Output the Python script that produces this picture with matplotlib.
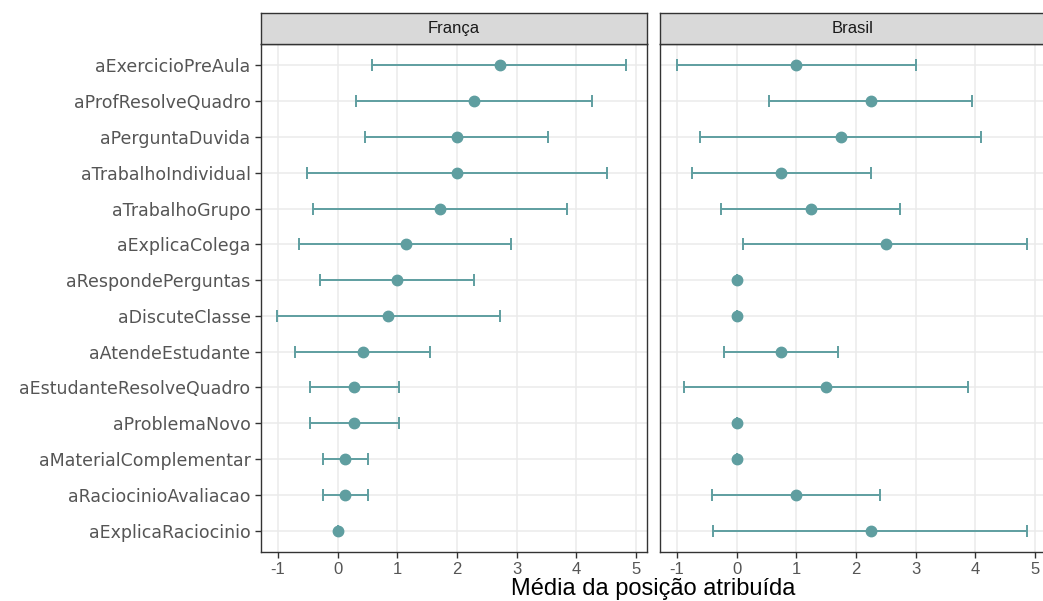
import matplotlib.pyplot as plt
import numpy as np

plt.rcParams['font.family'] = ['Liberation Sans', 'DejaVu Sans']
plt.rcParams['axes.unicode_minus'] = False

atividades = ['aExercicioPreAula', 'aProfResolveQuadro', 'aPerguntaDuvida',
              'aTrabalhoIndividual', 'aTrabalhoGrupo', 'aExplicaColega',
              'aRespondePerguntas', 'aDiscuteClasse', 'aAtendeEstudante',
              'aEstudanteResolveQuadro', 'aProblemaNovo', 'aMaterialComplementar',
              'aRaciocinioAvaliacao', 'aExplicaRaciocinio']

# França: media, limite inferior, limite superior
franca_media = [2.72, 2.28, 2.00, 2.00, 1.71, 1.14, 1.00, 0.85, 0.42, 0.28, 0.28, 0.13, 0.13, 0.00]
franca_inf = [0.57, 0.30, 0.46, -0.52, -0.42, -0.64, -0.30, -1.01, -0.71, -0.47, -0.47, -0.24, -0.24, 0.00]
franca_sup = [4.84, 4.26, 3.52, 4.51, 3.84, 2.91, 2.28, 2.72, 1.55, 1.03, 1.03, 0.51, 0.51, 0.00]

# Brasil
brasil_media = [1.00, 2.25, 1.75, 0.75, 1.25, 2.50, 0.00, 0.00, 0.75, 1.50, 0.00, 0.00, 1.00, 2.25]
brasil_inf = [-1.00, 0.54, -0.62, -0.75, -0.26, 0.11, 0.00, 0.00, -0.22, -0.89, 0.00, 0.00, -0.42, -0.39]
brasil_sup = [3.00, 3.95, 4.10, 2.25, 2.74, 4.87, 0.00, 0.00, 1.70, 3.87, 0.00, 0.00, 2.41, 4.87]

paises = ['França', 'Brasil']
cor = '#5f9ea0'

fig = plt.figure(figsize=(10.43, 6.01), dpi=100)
W, H = 1043.0, 601.0
bottom, top = 552, 44
strip_top = 13
lefts = [261, 660]
largura = 386

y = np.arange(1, len(atividades) + 1)
dados = [(franca_media, franca_inf, franca_sup), (brasil_media, brasil_inf, brasil_sup)]

for i, (x0, nome, (med, inf, sup)) in enumerate(zip(lefts, paises, dados)):
    ax = fig.add_axes([x0 / W, 1 - bottom / H, largura / W, (bottom - top) / H])
    med = np.array(med)
    err = [med - np.array(inf), np.array(sup) - med]
    ax.set_axisbelow(True)
    ax.grid(True, color='#ebebeb', linewidth=1.1)
    ax.errorbar(med, y, xerr=err, fmt='none', ecolor=cor, elinewidth=1.4,
                capsize=4, capthick=1.4, zorder=3)
    ax.plot(med, y, 'o', color=cor, markersize=7.5, zorder=4)
    ax.set_xlim(-1.285, 5.185)
    ax.set_ylim(len(atividades) + 0.6, 0.4)
    ax.set_xticks(range(-1, 6))
    ax.set_yticks(y)
    for s in ax.spines.values():
        s.set_color('#333333')
        s.set_linewidth(1.0)
    ax.tick_params(colors='#333333', labelcolor='#555555', length=4, width=1.0)
    ax.tick_params(axis='x', labelsize=12, pad=3)
    if i == 0:
        ax.set_yticklabels(atividades, fontsize=12.5, family='DejaVu Sans')
    else:
        ax.set_yticklabels([])
        ax.tick_params(axis='y', length=0)

    # faixa com o nome do painel
    sax = fig.add_axes([x0 / W, 1 - top / H, largura / W, (top - strip_top) / H])
    sax.set_facecolor('#d9d9d9')
    sax.set_xticks([])
    sax.set_yticks([])
    for s in sax.spines.values():
        s.set_color('#333333')
        s.set_linewidth(1.0)
    sax.text(0.5, 0.5, nome, transform=sax.transAxes, ha='center', va='center',
             fontsize=12, color='#1a1a1a')

fig.text((261 + 1046) / 2 / W, 1 - 589 / H, 'Média da posição atribuída',
         ha='center', va='center', fontsize=17)

fig.savefig('out.png', dpi=100)
